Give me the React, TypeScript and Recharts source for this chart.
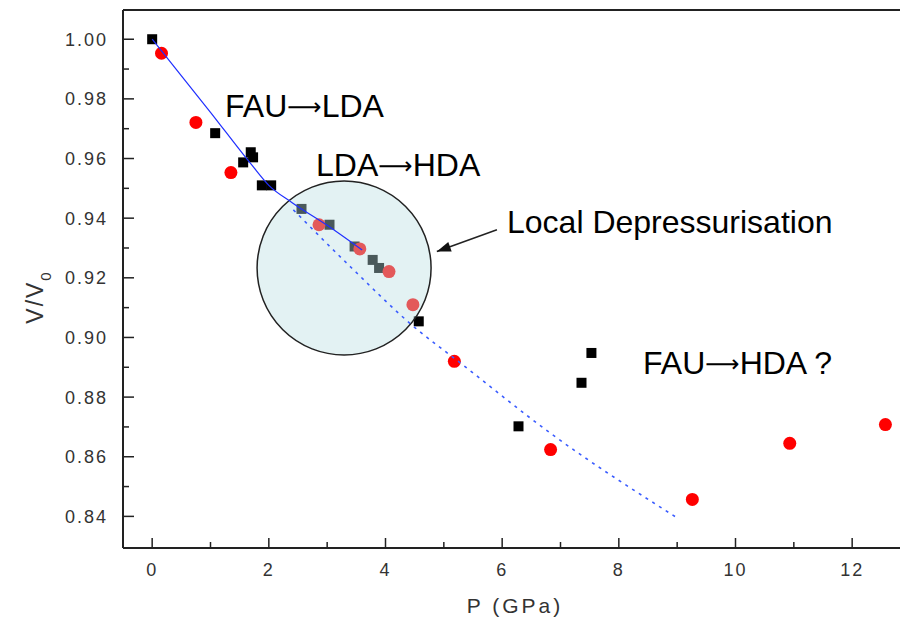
import React from "react";
import { ComposedChart, Line, Scatter, XAxis, YAxis, ReferenceDot, ReferenceLine } from "recharts";

const blackP = [0, 1.08, 1.56, 1.69, 1.73, 1.88, 2.04, 2.56, 3.04, 3.47, 3.78, 3.89, 4.57, 6.28, 7.36, 7.53];
const blackV = [1.0, 0.9685, 0.9587, 0.9621, 0.9604, 0.951, 0.951, 0.9431, 0.9378, 0.9305, 0.926, 0.9233, 0.9054, 0.8702, 0.8848, 0.8948];

const redP = [0.16, 0.75, 1.35, 2.86, 3.56, 4.06, 4.47, 5.18, 6.83, 9.26, 10.93, 12.57];
const redV = [0.9953, 0.9721, 0.9553, 0.9378, 0.9297, 0.9221, 0.911, 0.892, 0.8624, 0.8457, 0.8645, 0.8708];

const solidP = [0, 1.0, 1.7, 2.0, 2.4, 3.0, 3.6];
const solidV = [1.0, 0.9755, 0.958, 0.951, 0.9452, 0.9376, 0.9293];

const dashP = [2.42, 3.42, 4.48, 5.28, 6.82, 9.0];
const dashV = [0.9428, 0.9233, 0.9037, 0.8915, 0.868, 0.8395];

const xTicks = [0, 1, 2, 3, 4, 5, 6, 7, 8, 9, 10, 11, 12];
const yTicks = [0.84, 0.85, 0.86, 0.87, 0.88, 0.89, 0.9, 0.91, 0.92, 0.93, 0.94, 0.95, 0.96, 0.97, 0.98, 0.99, 1.0];

const xDomain = [-0.5, 12.82];
const yDomain = [0.8294, 1.0098];

// circle marking the local depressurisation region, and its pointer arrow
const circleCenter = { x: 3.29, y: 0.9233 };
const arrowTail = { x: 5.91, y: 0.9361 };
const arrowTip = { x: 4.88, y: 0.9288 };

const toPts = (xs: number[], ys: number[]) => xs.map((x, i) => ({ x, y: ys[i] }));
const black = toPts(blackP, blackV);
const red = toPts(redP, redV);
const solid = toPts(solidP, solidV);
const dashed = toPts(dashP, dashV);

const FONT = "'Liberation Sans', Arial, sans-serif";
const ARROW_FONT = "'DejaVu Sans', sans-serif";
const AXIS = "#222";

const XTick = (props: any) => {
  const { x, y, payload } = props;
  const v = payload.value;
  const major = v % 2 === 0;
  return (
    <g>
      <line x1={x} x2={x} y1={y} y2={y - (major ? 10 : 6)} stroke={AXIS} strokeWidth={1.5} />
      {major && (
        <text x={x} y={y + 28} textAnchor="middle" fontFamily={FONT} fontSize={18} fill="#333" letterSpacing={2}>
          {v}
        </text>
      )}
    </g>
  );
};

const YTick = (props: any) => {
  const { x, y, payload } = props;
  const v = payload.value;
  const major = Math.round(v * 100) % 2 === 0;
  return (
    <g>
      <line x1={x} x2={x + (major ? 11 : 6)} y1={y} y2={y} stroke={AXIS} strokeWidth={1.5} />
      {major && (
        <text x={x - 15} y={y + 6.5} textAnchor="end" fontFamily={FONT} fontSize={18} fill="#333" letterSpacing={2}>
          {v.toFixed(2)}
        </text>
      )}
    </g>
  );
};

const Square = (props: any) => <rect x={props.cx - 5} y={props.cy - 5} width={10} height={10} fill="#000" />;
const Dot = (props: any) => <circle cx={props.cx} cy={props.cy} r={6.5} fill="#ff0000" />;

const ArrowHead = (props: any) => {
  const { cx, cy } = props;
  const a = Math.atan2(21.7, -60);
  const len = 14;
  const w = 5;
  const bx = cx - Math.cos(a) * len;
  const by = cy - Math.sin(a) * len;
  const px = -Math.sin(a) * w;
  const py = Math.cos(a) * w;
  return <polygon points={`${cx},${cy} ${bx + px},${by + py} ${bx - px},${by - py}`} fill="#111" />;
};

const Label = ({ x, y, a, b }: { x: number; y: number; a: string; b: string }) => (
  <text x={x} y={y}>
    {a}
    <tspan fontFamily={ARROW_FONT} fontSize={24} dy={-2}>⟶</tspan>
    <tspan dy={2}>{b}</tspan>
  </text>
);

export default function App() {
  return (
    <div style={{ position: "absolute", left: 0, top: 0, width: 900, height: 625, background: "#fff" }}>
      <ComposedChart width={900} height={625} margin={{ top: 10, right: 0, left: 63, bottom: 17 }}>
        <XAxis
          type="number"
          dataKey="x"
          domain={xDomain}
          ticks={xTicks}
          allowDataOverflow
          height={60}
          tickSize={0}
          tickMargin={0}
          tickLine={false}
          tick={<XTick />}
          axisLine={{ stroke: AXIS, strokeWidth: 2 }}
        />
        <YAxis
          type="number"
          dataKey="y"
          domain={yDomain}
          ticks={yTicks}
          allowDataOverflow
          width={60}
          tickSize={0}
          tickMargin={0}
          tickLine={false}
          tick={<YTick />}
          axisLine={{ stroke: AXIS, strokeWidth: 2 }}
        />
        <ReferenceLine y={yDomain[1]} stroke={AXIS} strokeWidth={2} />
        <Scatter data={black} dataKey="y" shape={<Square />} isAnimationActive={false} />
        <Scatter data={red} dataKey="y" shape={<Dot />} isAnimationActive={false} />
        <ReferenceDot
          x={circleCenter.x}
          y={circleCenter.y}
          r={87}
          fill="#b8dfe2"
          fillOpacity={0.4}
          stroke="#222"
          strokeWidth={1.5}
          zIndex={650}
        />
        <Line
          data={solid}
          dataKey="y"
          type="monotone"
          stroke="#1f2fff"
          strokeWidth={1.2}
          dot={false}
          activeDot={false}
          isAnimationActive={false}
          zIndex={700}
        />
        <Line
          data={dashed}
          dataKey="y"
          type="monotone"
          stroke="#3a5cff"
          strokeWidth={1.6}
          strokeDasharray="3 5"
          dot={false}
          activeDot={false}
          isAnimationActive={false}
          zIndex={700}
        />
        <ReferenceLine segment={[arrowTail, arrowTip]} stroke="#222" strokeWidth={1.5} />
        <ReferenceDot x={arrowTip.x} y={arrowTip.y} shape={<ArrowHead />} />
      </ComposedChart>
      <svg width={900} height={625} style={{ position: "absolute", left: 0, top: 0, pointerEvents: "none" }}>
        <g fontFamily={FONT} fill="#000" fontSize={32}>
          <Label x={225} y={117} a="FAU" b="LDA" />
          <Label x={316} y={176} a="LDA" b="HDA" />
          <text x={507} y={233}>Local Depressurisation</text>
          <Label x={643} y={374} a="FAU" b="HDA ?" />
        </g>
        <text x={515} y={613} textAnchor="middle" fontFamily={FONT} fontSize={21} fill="#333" letterSpacing={3}>
          P (GPa)
        </text>
        <text
          transform="translate(43,297) rotate(-90)"
          textAnchor="middle"
          fontFamily={FONT}
          fontSize={23}
          fill="#333"
          letterSpacing={2}
        >
          V/V
          <tspan fontSize={15} dy={8}>0</tspan>
        </text>
      </svg>
    </div>
  );
}
